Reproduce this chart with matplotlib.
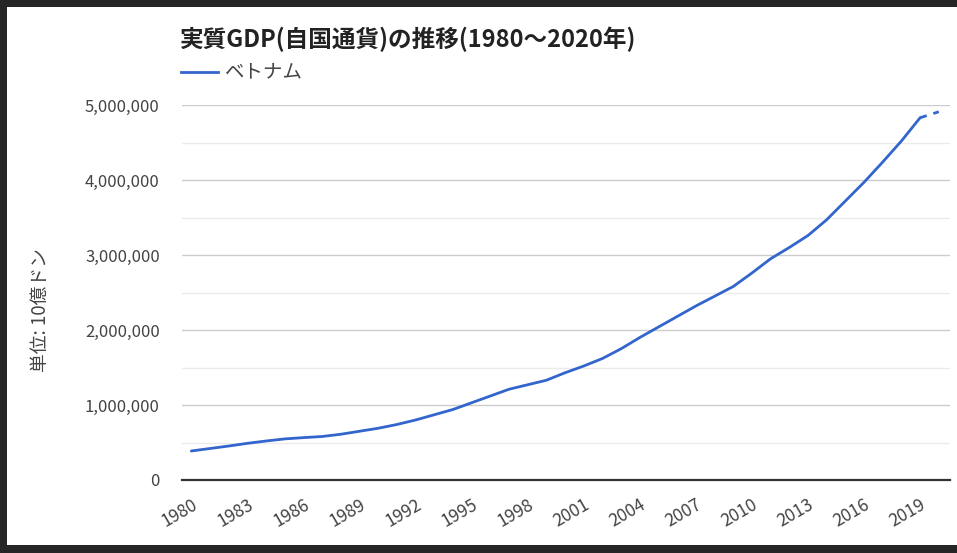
import matplotlib
matplotlib.use("Agg")
import matplotlib.pyplot as plt
from matplotlib.ticker import FuncFormatter, MultipleLocator
from matplotlib.patches import Rectangle

plt.rcParams['font.family'] = ['Noto Sans CJK JP', 'DejaVu Sans']

title = "実質GDP(自国通貨)の推移(1980～2020年)"
series_name = "ベトナム"
y_label = "単位: 10億ドン"

years = list(range(1980, 2021))
gdp = [387000, 420000, 453000, 489000, 520000, 548000, 565000, 580000, 610000, 650000,
       690000, 740000, 800000, 870000, 940000, 1030000, 1120000, 1210000, 1270000, 1330000,
       1430000, 1520000, 1620000, 1750000, 1900000, 2040000, 2180000, 2320000, 2450000, 2580000,
       2760000, 2950000, 3100000, 3260000, 3470000, 3720000, 3970000, 4240000, 4520000, 4830000,
       4910000]
xticks = list(range(1980, 2020, 3))
yticks = [0, 1000000, 2000000, 3000000, 4000000, 5000000]

W, H = 957, 553
fig = plt.figure(figsize=(W / 100, H / 100), dpi=100)
fig.patch.set_facecolor('#262626')
bg = Rectangle((7 / W, 8 / H), 1 - 7 / W, 1 - 15 / H, transform=fig.transFigure,
               facecolor='white', edgecolor='none', zorder=-10)
fig.patches.append(bg)

ax = fig.add_axes([182 / W, 1 - 480 / H, (950 - 182) / W, (480 - 105) / H])
ax.set_facecolor('white')

blue = '#3366cc'
ax.plot(years[:-1], gdp[:-1], color=blue, lw=2.0, solid_capstyle='round', zorder=3)
ax.plot(years[-2:], gdp[-2:], color=blue, lw=2.0, linestyle=(0, (2.5, 2.5)), zorder=3)

ax.set_xlim(1979.5, 2020.6)
ax.set_ylim(0, 5000000)

ax.yaxis.set_major_locator(MultipleLocator(1000000))
ax.yaxis.set_minor_locator(MultipleLocator(500000))
ax.grid(which='major', axis='y', color='#cccccc', lw=1.0, zorder=1)
ax.grid(which='minor', axis='y', color='#ebebeb', lw=1.0, zorder=1)
ax.set_yticks(yticks)
ax.yaxis.set_major_formatter(FuncFormatter(lambda v, p: f"{int(v):,}"))
ax.tick_params(axis='y', which='both', length=0, pad=16, labelsize=12, labelcolor='#444444')

ax.set_xticks(xticks)
ax.set_xticklabels([str(y) for y in xticks])
ax.tick_params(axis='x', length=0, pad=11, labelsize=12.5, labelcolor='#444444')
for lab in ax.get_xticklabels():
    lab.set_rotation(30)
    lab.set_ha('right')
    lab.set_rotation_mode('anchor')

for s in ['top', 'right', 'left']:
    ax.spines[s].set_visible(False)
ax.spines['bottom'].set_color('#333333')
ax.spines['bottom'].set_linewidth(1.6)
ax.spines['bottom'].set_zorder(4)

fig.text(180 / W, 1 - 39 / H, title, fontsize=17, fontweight='bold', color='#222222',
         ha='left', va='center')
fig.lines.append(plt.Line2D([181 / W, 218 / W], [1 - 72 / H, 1 - 72 / H], transform=fig.transFigure,
                            color=blue, lw=2.0))
fig.text(225 / W, 1 - 72 / H, series_name, fontsize=14, color='#444444', ha='left', va='center')
fig.text(40 / W, 1 - 310 / H, y_label, fontsize=13.5, color='#444444', rotation=90,
         ha='center', va='center')

fig.savefig('out.png', dpi=100)
